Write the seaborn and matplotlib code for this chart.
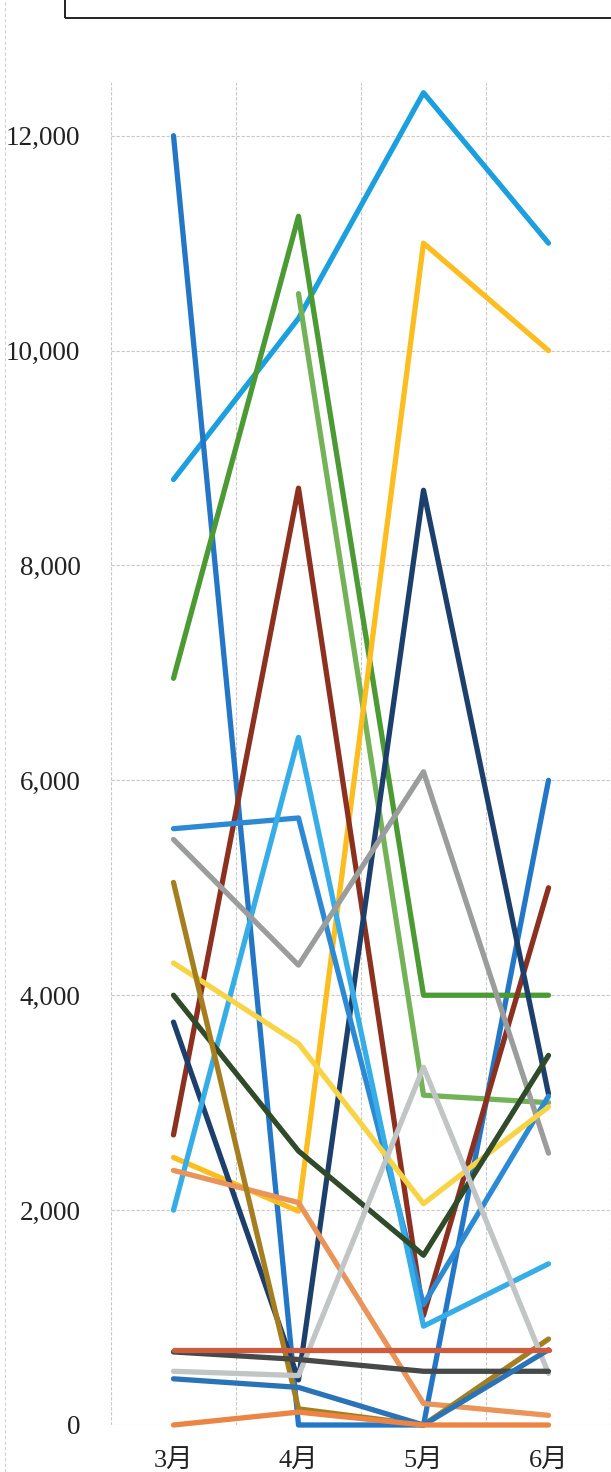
import matplotlib
matplotlib.use('Agg')
import matplotlib.pyplot as plt
import numpy as np
import pandas as pd
import seaborn as sns
from matplotlib.patches import Rectangle
from matplotlib.lines import Line2D
from matplotlib.ticker import FuncFormatter

# month categories
months = ['3月', '4月', '5月', '6月']

# values, one list per line
s_sky = [8800, 10300, 12400, 11000]
s_blue = [12000, 0, 0, 6000]
s_green = [6950, 11250, 4000, 4000]
s_lgreen = [np.nan, 10530, 3070, 3000]
s_gold = [2490, 1990, 11000, 10000]
s_maroon = [2700, 8720, 1020, 5000]
s_navy = [3750, 420, 8700, 3080]
s_bluec = [5550, 5650, 1120, 3060]
s_lsky = [2000, 6400, 920, 1500]
s_gray = [5450, 4280, 6080, 2530]
s_yellow = [4300, 3550, 2060, 2960]
s_dgreen = [4000, 2550, 1580, 3440]
s_sandy = [2370, 2070, 200, 90]
s_gbrown = [5050, 150, 0, 800]
s_lgray = [500, 460, 3330, 480]
s_charcoal = [680, 610, 500, 500]
s_blueb = [430, 350, 0, 700]
s_orange = [0, 120, 0, 0]
s_brick = [700, 700, 700, 700]

series = {
    '系列1': (s_sky, '#1c9fdf'),
    '系列2': (s_blue, '#2377c6'),
    '系列3': (s_green, '#4b9a34'),
    '系列4': (s_lgreen, '#74b257'),
    '系列5': (s_gold, '#fbbd1f'),
    '系列6': (s_maroon, '#8c3020'),
    '系列7': (s_navy, '#1d3f6c'),
    '系列8': (s_bluec, '#2c8ad4'),
    '系列9': (s_lsky, '#36ade6'),
    '系列10': (s_gray, '#9b9d9c'),
    '系列11': (s_yellow, '#f6d445'),
    '系列12': (s_dgreen, '#2f4b2a'),
    '系列13': (s_sandy, '#e99459'),
    '系列14': (s_gbrown, '#a57e20'),
    '系列15': (s_lgray, '#c2c5c5'),
    '系列16': (s_charcoal, '#474948'),
    '系列17': (s_blueb, '#2a73b7'),
    '系列18': (s_orange, '#ec8443'),
    '系列19': (s_brick, '#cd5b3d'),
}

rows = []
for name, (vals, _) in series.items():
    for m, v in zip(months, vals):
        rows.append({'month': m, 'value': v, 'series': name})
df = pd.DataFrame(rows)
palette = {name: c for name, (_, c) in series.items()}

sns.set_style('white')
plt.rcParams['font.family'] = ['Liberation Serif', 'Noto Sans CJK JP']
plt.rcParams['lines.solid_capstyle'] = 'round'
plt.rcParams['lines.solid_joinstyle'] = 'round'

fig = plt.figure(figsize=(6.11, 14.72), dpi=100)
ax = fig.add_axes([111 / 611, 47 / 1472, 500 / 611, (1425 - 82) / 1472])

sns.lineplot(data=df, x='month', y='value', hue='series', hue_order=list(series.keys()),
             palette=palette, estimator=None, sort=False, linewidth=3.8,
             legend=False, ax=ax)
for ln in ax.lines:
    ln.set_clip_on(False)

ax.set_xlim(-0.5, 3.5)
ax.set_ylim(0, 12500)
ax.set_yticks(range(0, 12001, 2000))
ax.yaxis.set_major_formatter(FuncFormatter(lambda v, p: f'{int(v):,}'))
ax.set_xticks([0, 1, 2, 3])
ax.set_xticklabels(months)
ax.set_xticks([-0.5, 0.5, 1.5, 2.5, 3.5], minor=True)

ax.grid(False)
ax.grid(which='major', axis='y', color='#c8c8c8', linestyle=(0, (3, 1.5)), linewidth=0.8)
ax.grid(which='minor', axis='x', color='#c8c8c8', linestyle=(0, (3, 1.5)), linewidth=0.8)
ax.set_axisbelow(True)
for sp in ax.spines.values():
    sp.set_visible(False)

ax.tick_params(axis='y', which='both', length=0, pad=22, labelsize=19.5, labelcolor='#222222')
ax.tick_params(axis='x', which='both', length=0, pad=18, labelsize=19, labelcolor='#222222')
ax.set_xlabel('')
ax.set_ylabel('')

# box cut off at the top of the page
fig.add_artist(Rectangle((65 / 611, (1472 - 18) / 1472), 1.0, 0.1,
                         transform=fig.transFigure, fill=False,
                         edgecolor='#222222', linewidth=1.4, clip_on=False))
# faint page edge at the left
fig.add_artist(Line2D([5 / 611, 5 / 611], [0, 1], transform=fig.transFigure,
                      color='#d0d0d0', linestyle=(0, (3, 2)), linewidth=0.8))

fig.savefig('out.png', dpi=100)
